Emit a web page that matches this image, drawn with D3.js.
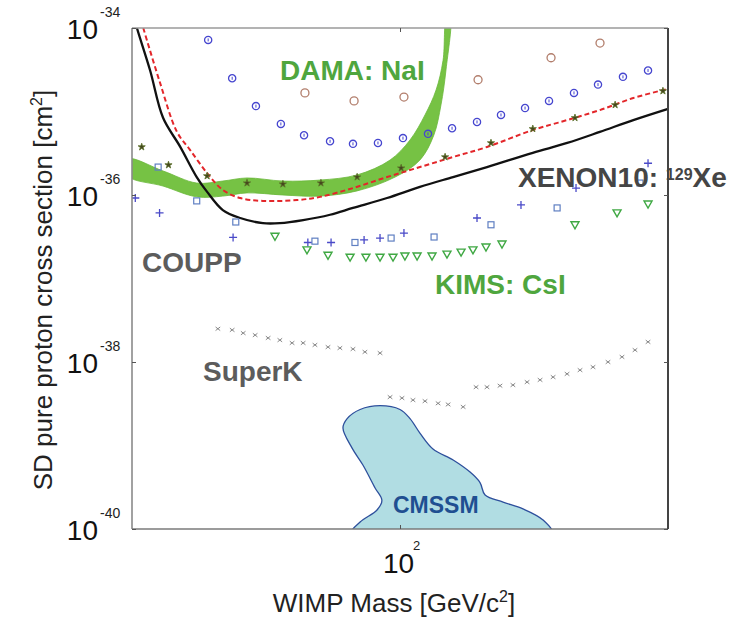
<!DOCTYPE html>
<html>
<head>
<meta charset="utf-8">
<script src="https://cdn.jsdelivr.net/npm/d3@7"></script>
<style>
body { margin: 0; background: #fff; }
text { font-family: "Liberation Sans", Arial, Helvetica, sans-serif; }
</style>
</head>
<body>
<div id="chart"></div>
<script>
// Werte (Masse in GeV/c^2, Wirkungsquerschnitt in cm^2)
const blackMass = [20.2, 20.6, 22.3, 24.1, 26.7, 29.5, 31.4, 34.5, 38.3, 43.9, 48.6, 55.9, 65.7, 75.4, 92.5, 112.7, 137.5, 168.6, 222, 273, 332, 406, 498];
const blackSigma = [1.4e-34, 1e-34, 3.1e-35, 8.4e-36, 3.8e-36, 1.64e-36, 1.09e-36, 6.6e-37, 5.3e-37, 4.6e-37, 4.6e-37, 5.0e-37, 5.8e-37, 7.0e-37, 9.2e-37, 1.25e-36, 1.64e-36, 2.16e-36, 3.2e-36, 4.2e-36, 5.7e-36, 7.9e-36, 1.07e-35];

const redMass = [21.4, 23.6, 26.2, 28.3, 31.4, 34.5, 38.3, 43.9, 53.9, 61.9, 75.4, 92.5, 112.7, 137.5, 168.6, 222, 273, 332, 406, 498];
const redSigma = [1e-34, 2.3e-35, 5.7e-36, 3.5e-36, 1.83e-36, 1.15e-36, 9.2e-37, 8.5e-37, 8.7e-37, 9.5e-37, 1.21e-36, 1.64e-36, 2.16e-36, 2.85e-36, 3.76e-36, 6.0e-36, 7.9e-36, 1.04e-35, 1.45e-35, 1.86e-35];

const starMass = [21.2, 24.9, 31.4, 39.9, 49.5, 62.2, 77.3, 100.7, 131.1, 172.7, 222, 286, 364, 485];
const starSigma = [3.76e-36, 2.29e-36, 1.69e-36, 1.39e-36, 1.35e-36, 1.39e-36, 1.64e-36, 2.1e-36, 2.85e-36, 4.2e-36, 6.2e-36, 8.4e-36, 1.2e-35, 1.76e-35];

const damaUpperMass = [19.5, 24.1, 29.5, 34.5, 39.9, 49.5, 61.9, 77.3, 94.2, 106.2, 116.2, 124.2, 129.5, 132.5];
const damaUpperSigma = [2.7e-36, 1.94e-36, 1.39e-36, 1.47e-36, 1.6e-36, 1.47e-36, 1.51e-36, 1.74e-36, 2.62e-36, 4.56e-36, 9.1e-36, 1.81e-35, 4.1e-35, 1.4e-34];
const damaLowerMass = [19.5, 24.1, 29.5, 34.5, 39.9, 49.5, 61.9, 77.3, 97.1, 112.7, 122.5, 127.9, 131.8, 135.1];
const damaLowerSigma = [1.7e-36, 1.28e-36, 9.5e-37, 9.7e-37, 1.06e-36, 1.0e-36, 9.7e-37, 1.12e-36, 1.64e-36, 2.62e-36, 5.2e-36, 1.2e-35, 3.14e-35, 1.4e-34];

const cmssmMass = [74.1, 78.7, 87.1, 89.7, 86.1, 80.1, 75.0, 71.0, 72.8, 78.7, 88.7, 100, 106.2, 112.7, 121.9, 137.6, 152.3, 161.7, 166.7, 185.7, 209.3, 236.1, 250.8];
const cmssmSigma = [0.85e-40, 1.21e-40, 1.69e-40, 2.2e-40, 3.1e-40, 5.8e-40, 9.3e-40, 1.62e-39, 2.1e-39, 2.7e-39, 3.0e-39, 2.7e-39, 2.1e-39, 1.41e-39, 9.1e-40, 6.7e-40, 4.8e-40, 3.6e-40, 2.55e-40, 2.1e-40, 1.74e-40, 1.28e-40, 0.85e-40];

const blueCircleMass = [31.6, 36.5, 42.1, 48.9, 56.2, 65.7, 75.4, 87.6, 101.8, 118.3, 136.7, 158.8, 183.4, 211.9, 244.7, 284.3, 328.4, 381.5, 443.5];
const blueCircleSigma = [7.2e-35, 2.5e-35, 1.16e-35, 7.1e-36, 5.2e-36, 4.4e-36, 4.1e-36, 4.2e-36, 4.8e-36, 5.4e-36, 6.3e-36, 7.5e-36, 9.1e-36, 1.1e-35, 1.34e-35, 1.67e-35, 2.1e-35, 2.6e-35, 3.1e-35];

const brownCircleMass = [56.5, 75.9, 102.4, 159.8, 247.7, 332.4];
const brownCircleSigma = [1.67e-35, 1.34e-35, 1.49e-35, 2.4e-35, 4.4e-35, 6.6e-35];

const plusMass = [20.4, 23.6, 36.7, 57.5, 66.1, 80.6, 88.7, 102.4, 158.8, 206.8, 287.8, 443.5];
const plusSigma = [9.2e-37, 6.1e-37, 3.1e-37, 2.7e-37, 2.7e-37, 2.9e-37, 3.05e-37, 3.5e-37, 5.3e-37, 7.6e-37, 1.21e-36, 2.4e-36];

const squareMass = [23.4, 29.5, 37.3, 60.0, 76.3, 94.8, 122.7, 172.7, 256.9, 422.6];
const squareSigma = [2.16e-36, 8.5e-37, 4.75e-37, 2.8e-37, 2.7e-37, 3.05e-37, 3.14e-37, 4.4e-37, 7.0e-37, 1.39e-36];

const triangleMass = [47.2, 57.2, 64.9, 74.1, 81.5, 88.7, 95.9, 103, 110.8, 121.2, 132.6, 144.3, 155, 167.6, 184.5, 286, 368.2, 443.5];
const triangleSigma = [3.2e-37, 2.2e-37, 1.9e-37, 1.8e-37, 1.8e-37, 1.8e-37, 1.8e-37, 1.86e-37, 1.86e-37, 1.86e-37, 1.96e-37, 2.07e-37, 2.2e-37, 2.38e-37, 2.59e-37, 4.4e-37, 6.1e-37, 7.8e-37];

const superKMass = [33.5, 36.5, 39.0, 41.9, 45.3, 48.6, 52.3, 55.9, 60.0, 64.9, 69.7, 75.4, 81.0, 88.7,
    94.2, 101.2, 108.1, 116.2, 125.7, 133.5, 146.1,
    157.9, 168.6, 182.3, 197, 214.5, 231.9, 250.8, 272.7, 294.8, 318.7, 348.7, 379.3, 410.1, 443.5];
const superKSigma = [2.5e-38, 2.42e-38, 2.22e-38, 2.1e-38, 1.94e-38, 1.83e-38, 1.69e-38, 1.69e-38, 1.6e-38, 1.51e-38, 1.47e-38, 1.43e-38, 1.32e-38, 1.28e-38,
    3.8e-39, 3.7e-39, 3.5e-39, 3.4e-39, 3.2e-39, 3.1e-39, 2.9e-39,
    5.0e-39, 5.0e-39, 5.2e-39, 5.3e-39, 5.75e-39, 6.1e-39, 6.6e-39, 7.2e-39, 8.0e-39, 8.7e-39, 1.0e-38, 1.15e-38, 1.39e-38, 1.74e-38];

const xTicks = [100];
const yTicks = [1e-34, 1e-36, 1e-38, 1e-40];

const width = 753, height = 623;
const plot = {left: 132, right: 668, top: 28, bottom: 529};

const svg = d3.select("#chart")
    .append("svg")
    .attr("width", width)
    .attr("height", height);

const x = d3.scaleLog().domain([20, 500]).range([plot.left, plot.right]);
const y = d3.scaleLog().domain([1e-40, 1e-34]).range([plot.bottom, plot.top]);

const zip = (ms, ss) => ms.map((m, i) => [m, ss[i]]);

svg.append("clipPath").attr("id", "clip")
    .append("rect")
    .attr("x", plot.left).attr("y", plot.top)
    .attr("width", plot.right - plot.left).attr("height", plot.bottom - plot.top);

const g = svg.append("g").attr("clip-path", "url(#clip)");

const line = d3.line().x(d => x(d[0])).y(d => y(d[1])).curve(d3.curveCatmullRom.alpha(0.5));
const closed = d3.line().x(d => x(d[0])).y(d => y(d[1])).curve(d3.curveCatmullRomClosed.alpha(0.5));

// CMSSM Bereich
g.append("path")
    .attr("d", closed(zip(cmssmMass, cmssmSigma)))
    .attr("fill", "#b1dde3")
    .attr("stroke", "#2d4f9c")
    .attr("stroke-width", 1.3);

// DAMA Band
const damaPts = zip(damaUpperMass, damaUpperSigma).concat(zip(damaLowerMass, damaLowerSigma).reverse());
g.append("path")
    .attr("d", closed(damaPts))
    .attr("fill", "#76c244")
    .attr("stroke", "#6ab83a")
    .attr("stroke-width", 0.8);

// Grenzkurven
g.append("path")
    .attr("d", line(zip(blackMass, blackSigma)))
    .attr("fill", "none")
    .attr("stroke", "#111")
    .attr("stroke-width", 2.3);

g.append("path")
    .attr("d", line(zip(redMass, redSigma)))
    .attr("fill", "none")
    .attr("stroke", "#e3262a")
    .attr("stroke-width", 2)
    .attr("stroke-dasharray", "5,3");

// Marker
function markers(data, draw) {
    return g.append("g")
        .selectAll("g")
        .data(data)
        .join("g")
        .attr("transform", d => `translate(${x(d[0])},${y(d[1])})`)
        .call(draw);
}

markers(zip(superKMass, superKSigma), s => s.append("path")
    .attr("d", "M-2.3,-1.8L2.3,1.8M-2.3,1.8L2.3,-1.8")
    .attr("stroke", "#7a7a7a").attr("stroke-width", 0.9));

markers(zip(blueCircleMass, blueCircleSigma), s => {
    s.append("circle").attr("r", 3.6)
        .attr("fill", "none").attr("stroke", "#4646cf").attr("stroke-width", 1.3);
    s.append("path").attr("d", "M0,-1.5V1.5")
        .attr("stroke", "#4646cf").attr("stroke-width", 1);
});

markers(zip(brownCircleMass, brownCircleSigma), s => s.append("circle").attr("r", 4)
    .attr("fill", "none").attr("stroke", "#b27e6c").attr("stroke-width", 1.3));

markers(zip(plusMass, plusSigma), s => s.append("path")
    .attr("d", "M-4,0H4M0,-4V4")
    .attr("stroke", "#4a4ac8").attr("stroke-width", 1.3));

markers(zip(squareMass, squareSigma), s => s.append("rect")
    .attr("x", -3).attr("y", -3).attr("width", 6).attr("height", 6)
    .attr("fill", "none").attr("stroke", "#5f7fc2").attr("stroke-width", 1.2));

markers(zip(triangleMass, triangleSigma), s => s.append("path")
    .attr("d", "M-4,-3L4,-3L0,4Z")
    .attr("fill", "none").attr("stroke", "#3fa843").attr("stroke-width", 1.4));

markers(zip(starMass, starSigma), s => s.append("path")
    .attr("d", d3.symbol(d3.symbolStar, 16)())
    .attr("fill", "#45461e").attr("stroke", "#5a7028").attr("stroke-width", 0.8));

// Rahmen
const frame = svg.append("g").attr("fill", "none").attr("stroke-width", 1.6);
frame.append("line").attr("x1", plot.left).attr("x2", plot.right).attr("y1", plot.top).attr("y2", plot.top).attr("stroke", "#9a9a9a");
frame.append("line").attr("x1", plot.left).attr("x2", plot.left).attr("y1", plot.top).attr("y2", plot.bottom).attr("stroke", "#8a8a8a");
frame.append("line").attr("x1", plot.left).attr("x2", plot.right).attr("y1", plot.bottom).attr("y2", plot.bottom).attr("stroke", "#7a7a7a");
frame.append("line").attr("x1", plot.right).attr("x2", plot.right).attr("y1", plot.top).attr("y2", plot.bottom).attr("stroke", "#444").attr("stroke-width", 2);

// Achsen
const yAxis = svg.append("g")
    .attr("transform", `translate(${plot.left},0)`)
    .call(d3.axisLeft(y).tickValues(yTicks).tickSize(-4).tickFormat(""));
svg.append("g")
    .attr("transform", `translate(${plot.right},0)`)
    .call(d3.axisRight(y).tickValues(yTicks).tickSize(-4).tickFormat(""));
const xAxis = svg.append("g")
    .attr("transform", `translate(0,${plot.bottom})`)
    .call(d3.axisBottom(x).tickValues(xTicks).tickSize(-4).tickFormat(""));
svg.append("g")
    .attr("transform", `translate(0,${plot.top})`)
    .call(d3.axisTop(x).tickValues(xTicks).tickSize(-4).tickFormat(""));

svg.selectAll(".domain").remove();
svg.selectAll(".tick line").attr("stroke", "#555");

yAxis.selectAll(".tick").each(function(d) {
    const t = d3.select(this);
    const e = Math.round(Math.log10(d));
    t.append("text")
        .attr("x", -34).attr("dy", "0.36em")
        .attr("text-anchor", "end")
        .attr("fill", "#111").attr("font-size", 28)
        .text("10");
    t.append("text")
        .attr("x", -32).attr("y", -12)
        .attr("text-anchor", "start")
        .attr("fill", "#222").attr("font-size", 14)
        .text(e);
});

xAxis.selectAll(".tick").each(function(d) {
    const t = d3.select(this);
    t.append("text")
        .attr("x", -2).attr("y", 44)
        .attr("text-anchor", "middle")
        .attr("fill", "#111").attr("font-size", 28)
        .text("10");
    t.append("text")
        .attr("x", 16).attr("y", 21)
        .attr("fill", "#222").attr("font-size", 13)
        .text(Math.round(Math.log10(d)));
});

// Achsentitel
const xTitle = svg.append("text")
    .attr("x", 394).attr("y", 612)
    .attr("text-anchor", "middle")
    .attr("fill", "#222").attr("font-size", 26);
xTitle.append("tspan").text("WIMP Mass [GeV/c");
xTitle.append("tspan").attr("font-size", 16).attr("dy", -10).text("2");
xTitle.append("tspan").attr("dy", 10).text("]");

const yTitle = svg.append("text")
    .attr("transform", "translate(52,290) rotate(-90)")
    .attr("text-anchor", "middle")
    .attr("fill", "#222").attr("font-size", 26);
yTitle.append("tspan").text("SD pure proton cross section [cm");
yTitle.append("tspan").attr("font-size", 16).attr("dy", -10).text("2");
yTitle.append("tspan").attr("dy", 10).text("]");

// Beschriftungen
const labels = svg.append("g").attr("font-weight", "bold");
labels.append("text").attr("x", 280).attr("y", 80).attr("font-size", 28).attr("fill", "#4fa63e").text("DAMA: NaI");
labels.append("text").attr("x", 142).attr("y", 272).attr("font-size", 28).attr("fill", "#5c5c5c").text("COUPP");
labels.append("text").attr("x", 435).attr("y", 294).attr("font-size", 28).attr("fill", "#4fa63e").text("KIMS: CsI");
labels.append("text").attr("x", 203).attr("y", 381).attr("font-size", 28).attr("fill", "#5c5c5c").text("SuperK");
labels.append("text").attr("x", 393).attr("y", 513).attr("font-size", 23).attr("fill", "#1f4f91").text("CMSSM");
const xenon = labels.append("text").attr("x", 518).attr("y", 187).attr("font-size", 28).attr("fill", "#454545");
xenon.append("tspan").text("XENON10: ");
xenon.append("tspan").attr("font-size", 16).attr("dy", -7).text("129");
xenon.append("tspan").attr("dy", 7).text("Xe");
</script>
</body>
</html>
